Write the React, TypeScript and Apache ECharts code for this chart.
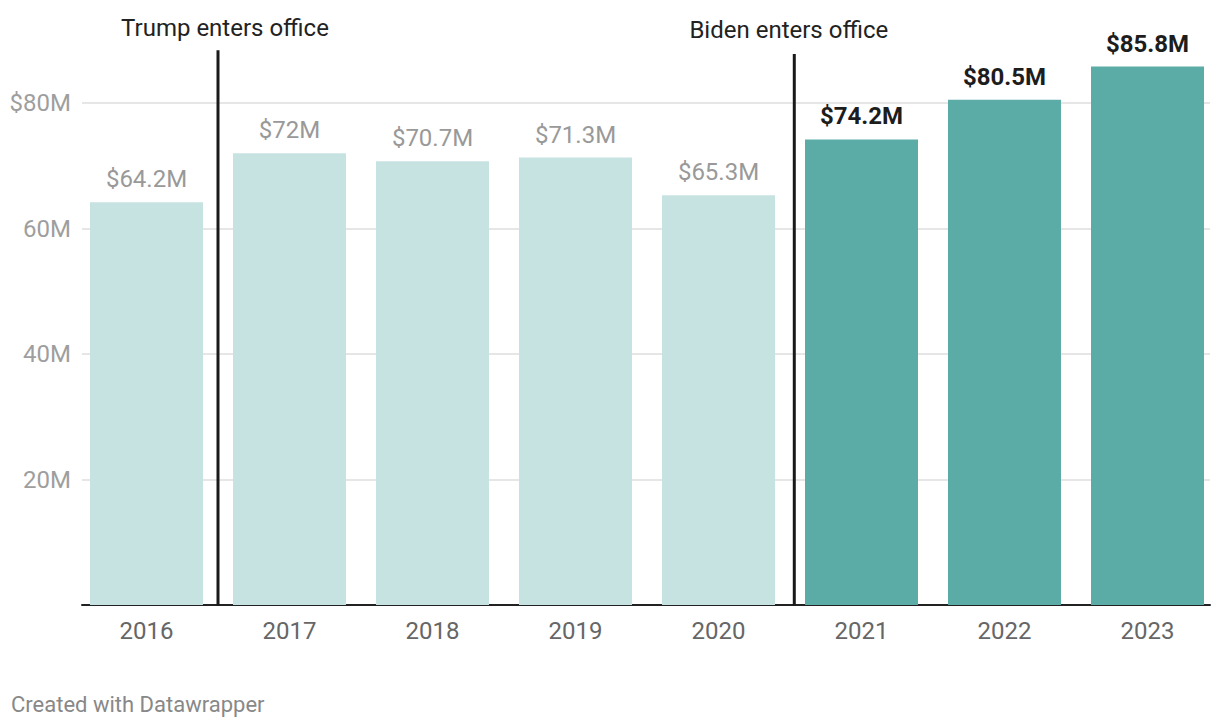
import React, { useEffect, useRef } from "react";
import * as echarts from "echarts";

const years = ["2016", "2017", "2018", "2019", "2020", "2021", "2022", "2023"];
const values = [64.2, 72, 70.7, 71.3, 65.3, 74.2, 80.5, 85.8];
const bidenStartIndex = 5;
const yTickValues = [0, 20, 40, 60, 80];

const annotations = [
  { text: "Trump enters office", at: 0.5, top: 88.4, textDx: 7, textY: 28 },
  { text: "Biden enters office", at: 4.53, top: 87.8, textDx: -5.5, textY: 30 },
];

const FONT = "Roboto, 'Noto Sans', sans-serif";
const LIGHT = "#c6e2e1";
const DARK = "#5baca7";

export default function App() {
  const ref = useRef<HTMLDivElement>(null);

  useEffect(() => {
    if (!ref.current) return;
    const chart = echarts.init(ref.current, null, { renderer: "svg" });

    const data = values.map((v, i) => {
      const hi = i >= bidenStartIndex;
      return {
        value: v,
        itemStyle: { color: hi ? DARK : LIGHT },
        label: {
          color: hi ? "#1d1d1d" : "#999999",
          fontWeight: hi ? "bold" : "normal",
        },
      };
    });

    chart.setOption({
      animation: false,
      textStyle: { fontFamily: FONT },
      grid: [
        { left: 75, right: 1, top: 40.25, bottom: 123 },
        { left: 82, right: 10, top: 103, bottom: 123 },
      ],
      xAxis: [
        {
          type: "category",
          gridIndex: 0,
          data: years,
          axisLine: { show: false },
          axisTick: { show: false },
          axisLabel: { color: "#666666", fontSize: 24, margin: 14, fontFamily: FONT },
        },
        {
          type: "category",
          gridIndex: 1,
          data: years,
          axisLine: { show: true, lineStyle: { color: "#222222", width: 2 } },
          axisTick: { show: false },
          axisLabel: { show: false },
        },
      ],
      yAxis: [
        {
          type: "value",
          gridIndex: 0,
          min: 0,
          max: 90,
          show: false,
          splitLine: { show: false },
        },
        {
          type: "value",
          gridIndex: 1,
          min: yTickValues[0],
          max: yTickValues[yTickValues.length - 1],
          interval: 20,
          axisLine: { show: false },
          axisTick: { show: false },
          splitLine: { show: true, lineStyle: { color: "#e6e6e6", width: 2 } },
          axisLabel: {
            color: "#9e9e9e",
            fontSize: 24,
            margin: 11,
            fontFamily: FONT,
            formatter: (v: number) =>
              v === 0 ? "" : v === yTickValues[yTickValues.length - 1] ? `$${v}M` : `${v}M`,
          },
        },
      ],
      series: [
        {
          type: "bar",
          xAxisIndex: 0,
          yAxisIndex: 0,
          barWidth: 113,
          data,
          label: {
            show: true,
            position: "top",
            distance: 11,
            fontSize: 24,
            fontFamily: FONT,
            formatter: (p: any) => `$${p.value}M`,
          },
        },
      ],
    });

    const x0 = chart.convertToPixel({ xAxisIndex: 0 }, years[0]) as number;
    const x1 = chart.convertToPixel({ xAxisIndex: 0 }, years[1]) as number;
    const step = x1 - x0;
    const yBottom = chart.convertToPixel({ yAxisIndex: 0 }, 0) as number;

    const graphic: any[] = [];
    annotations.forEach((a) => {
      const x = x0 + a.at * step;
      const yTop = chart.convertToPixel({ yAxisIndex: 0 }, a.top) as number;
      graphic.push({
        type: "line",
        shape: { x1: x, y1: yTop, x2: x, y2: yBottom + 1 },
        style: { stroke: "#1a1a1a", lineWidth: 3 },
        z: 10,
      });
      graphic.push({
        type: "text",
        x: x + a.textDx,
        y: a.textY,
        style: {
          text: a.text,
          fill: "#222222",
          font: `24px ${FONT}`,
          textAlign: "center",
          textVerticalAlign: "middle",
        },
        z: 10,
      });
    });
    graphic.push({
      type: "text",
      x: 11,
      y: 704,
      style: {
        text: "Created with Datawrapper",
        fill: "#888888",
        font: `22px ${FONT}`,
        textAlign: "left",
        textVerticalAlign: "middle",
      },
    });
    chart.setOption({ graphic });

    return () => chart.dispose();
  }, []);

  return (
    <div
      ref={ref}
      style={{ position: "fixed", left: 0, top: 0, width: 1220, height: 728, background: "#ffffff" }}
    />
  );
}
